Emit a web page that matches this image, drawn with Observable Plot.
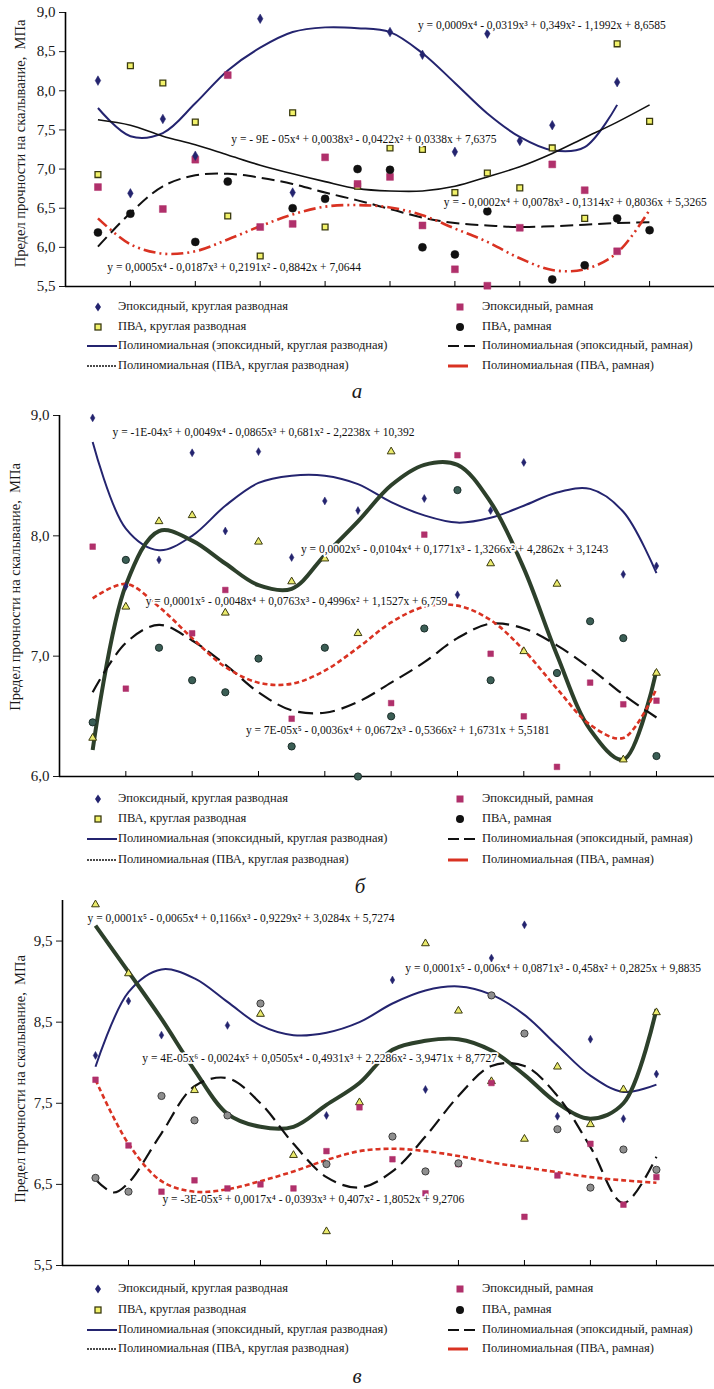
<!DOCTYPE html>
<html><head><meta charset="utf-8">
<script src="https://cdn.jsdelivr.net/npm/d3@7"></script>
<script src="https://cdn.jsdelivr.net/npm/@observablehq/plot@0.6"></script>
<style>
body{margin:0;background:#fff;}
#root{position:relative;width:714px;height:1389px;overflow:hidden;font-family:"Liberation Serif","Times New Roman",serif;color:#1a1a1a;background:#fff;}
.panel{position:absolute;left:0;}
.leg{position:absolute;font-size:12.5px;line-height:1;white-space:nowrap;color:#1a1a1a;}
.leg svg{position:absolute;overflow:visible;}
.cap{position:absolute;font-style:italic;font-size:21px;transform:translate(-50%,-50%);}
</style></head><body><div id="root"></div>
<script>
// ---------- shared labels ----------
const yTitle = "Предел прочности на скалывание,\u00a0 МПа";
const seriesNames = ["Эпоксидный, круглая разводная", "Эпоксидный, рамная", "ПВА, круглая разводная", "ПВА, рамная"];
const trendNames = ["Полиномиальная (эпоксидный, круглая разводная)", "Полиномиальная (эпоксидный, рамная)", "Полиномиальная (ПВА, круглая разводная)", "Полиномиальная (ПВА, рамная)"];
const captions = ["а", "б", "в"];
const X18 = [1,2,3,4,5,6,7,8,9,10,11,12,13,14,15,16,17,18];
const xTicks = [2,4,6,8,10,12,14,16,18];

// ---------- panel а ----------
const yTicksA = [5.5,6,6.5,7,7.5,8,8.5,9];
const aEpoxyRound = [8.13,6.69,7.64,7.17,null,8.92,6.70,null,null,8.75,8.46,7.22,8.73,7.36,7.56,null,8.11,null];
const aEpoxyFrame = [6.77,null,6.49,7.12,8.20,6.26,6.30,7.15,6.81,6.90,6.28,5.72,5.51,6.25,7.06,6.73,5.95,null];
const aPvaRound   = [6.93,8.32,8.10,7.60,6.40,5.89,7.72,6.26,6.78,7.27,7.25,6.70,6.95,6.76,7.27,6.37,8.60,7.61];
const aPvaFrame   = [6.19,6.43,null,6.07,6.84,null,6.50,6.62,7.00,6.99,6.00,5.91,6.46,null,5.59,5.77,6.37,6.22];
const aTrEpoxyRoundX = [1,2,3,4,5,6,7,8,9,10,11,12,13,14,15,16,17];
const aTrEpoxyRound  = [7.78,7.42,7.46,7.84,8.26,8.55,8.75,8.81,8.80,8.75,8.48,8.10,7.71,7.41,7.24,7.28,7.82];
const aTrEpoxyFrame  = [6.01,6.44,6.78,6.92,6.94,6.89,6.81,6.70,6.60,6.49,6.38,6.31,6.28,6.26,6.27,6.29,6.31,6.32];
const aTrPvaRound    = [7.63,7.56,7.42,7.31,7.18,7.05,6.94,6.84,6.75,6.72,6.72,6.78,6.90,7.03,7.20,7.40,7.60,7.82];
const aTrPvaFrame    = [6.37,6.04,5.92,5.95,6.10,6.27,6.42,6.52,6.54,6.51,6.41,6.24,6.07,5.86,5.71,5.72,5.93,6.48];
const aEqText = ["y = 0,0009x⁴ - 0,0319x³ + 0,349x² - 1,1992x + 8,6585",
                 "y = - 9E - 05x⁴ + 0,0038x³ - 0,0422x² + 0,0338x + 7,6375",
                 "y = - 0,0002x⁴ + 0,0078x³ - 0,1314x² + 0,8036x + 5,3265",
                 "y = 0,0005x⁴ - 0,0187x³ + 0,2191x² - 0,8842x + 7,0644"];
const aEqX = [10.86, 5.11, 11.66, 1.29];
const aEqY = [8.83, 7.38, 6.57, 5.75];

// ---------- panel б ----------
const yTicksB = [6,7,8,9];
const bEpoxyRound = [8.98,7.58,7.80,8.69,8.04,8.70,7.82,8.29,8.21,null,8.31,7.51,8.21,8.61,null,null,7.68,7.75];
const bEpoxyFrame = [7.91,6.73,null,7.19,7.55,null,6.48,null,null,6.61,8.01,8.67,7.02,6.50,6.08,6.78,6.60,6.63];
const bPvaRound   = [6.32,7.41,8.12,8.17,7.36,7.95,7.62,7.81,7.19,8.70,null,null,7.77,7.04,7.60,null,6.14,6.86];
const bPvaFrame   = [6.45,7.80,7.07,6.80,6.70,6.98,6.25,7.07,6.00,6.50,7.23,8.38,6.80,null,6.86,7.29,7.15,6.17];
const bTrEpoxyRound = [8.78,8.06,7.88,8.00,8.25,8.44,8.50,8.50,8.43,8.28,8.17,8.11,8.15,8.25,8.36,8.39,8.20,7.69];
const bTrEpoxyFrame = [6.70,7.11,7.26,7.13,6.93,6.70,6.55,6.53,6.62,6.78,6.95,7.15,7.27,7.23,7.09,6.90,6.68,6.49];
const bTrPvaRound   = [6.22,7.59,8.04,7.96,7.77,7.59,7.56,7.84,8.12,8.42,8.59,8.59,8.28,7.73,7.01,6.39,6.14,6.88];
const bTrPvaFrame   = [7.48,7.60,7.41,7.15,6.91,6.78,6.77,6.88,7.07,7.28,7.41,7.42,7.30,7.05,6.73,6.43,6.32,6.73];
const bEqText = ["y = -1E-04x⁵ + 0,0049x⁴ - 0,0865x³ + 0,681x² - 2,2238x + 10,392",
                 "y = 0,0002x⁵ - 0,0104x⁴ + 0,1771x³ - 1,3266x² + 4,2862x + 3,1243",
                 "y = 0,0001x⁵ - 0,0048x⁴ + 0,0763x³ - 0,4996x² + 1,1527x + 6,759",
                 "y = 7E-05x⁵ - 0,0036x⁴ + 0,0672x³ - 0,5366x² + 1,6731x + 5,5181"];
const bEqX = [1.60, 7.28, 2.60, 5.62];
const bEqY = [8.86, 7.89, 7.46, 6.38];

// ---------- panel в ----------
const yTicksC = [5.5,6.5,7.5,8.5,9.5];
const cEpoxyRound = [8.09,8.76,8.34,null,8.46,null,null,7.35,null,9.02,7.67,null,9.29,9.70,7.34,8.29,7.31,7.86];
const cEpoxyFrame = [7.79,6.98,6.41,6.55,6.45,6.50,6.45,6.91,7.45,6.81,6.39,6.75,7.75,6.10,6.61,7.00,6.25,6.59];
const cPvaRound   = [9.95,9.10,null,7.66,null,8.60,6.86,5.92,7.51,null,9.47,8.64,7.77,7.06,7.95,7.24,7.67,8.62];
const cPvaFrame   = [6.58,6.41,7.59,7.29,7.35,8.73,null,6.75,null,7.09,6.66,6.76,8.83,8.36,7.18,6.46,6.93,6.68];
const cTrEpoxyRound = [7.95,8.87,9.15,9.04,8.75,8.46,8.34,8.37,8.50,8.73,8.89,8.94,8.84,8.59,8.21,7.84,7.64,7.73];
const cTrEpoxyFrameX = [1,1.55,2,3,4,5,6,7,8,9,10,11,12,13,14,15,16,17,18];
const cTrEpoxyFrame  = [6.56,6.40,6.52,7.13,7.71,7.81,7.50,7.00,6.59,6.46,6.66,7.09,7.59,7.96,7.96,7.59,6.96,6.27,6.84];
const cTrPvaRound   = [9.69,9.12,8.54,7.91,7.37,7.21,7.21,7.48,7.75,8.16,8.27,8.29,8.15,7.85,7.50,7.31,7.50,8.66];
const cTrPvaFrame   = [7.79,7.00,6.54,6.41,6.44,6.54,6.66,6.80,6.91,6.94,6.91,6.85,6.77,6.71,6.65,6.59,6.55,6.52];
const cEqText = ["y = 0,0001x⁵ - 0,0065x⁴ + 0,1166x³ - 0,9229x² + 3,0284x + 5,7274",
                 "y = 0,0001x⁵ - 0,006x⁴ + 0,0871x³ - 0,458x² + 0,2825x + 9,8835",
                 "y = 4E-05x⁶ - 0,0024x⁵ + 0,0505x⁴ - 0,4931x³ + 2,2286x² - 3,9471x + 8,7727",
                 "y = -3E-05x⁵ + 0,0017x⁴ - 0,0393x³ + 0,407x² - 1,8052x + 9,2706"];
const cEqX = [0.76, 10.39, 2.42, 3.03];
const cEqY = [9.78, 9.17, 8.05, 6.31];

// ---------- helpers ----------
const NAVY = "#24246f", MAG = "#b0306b", RED = "#d93222", GREEN = "#2d402b";
const fmt = d => d.toFixed(1).replace(".", ",");
const pts = (xs, ys) => xs.map((x, i) => ({x, y: ys[i]})).filter(d => d.y != null);
const eqs = (t, xs, ys) => t.map((s, i) => ({t: s, x: xs[i], y: ys[i]}));

function makePanel(p) {
  const [y0, y1] = p.yDomain;
  const innerH = p.height - p.mt - p.mb;
  const tickLen = 5 * (y1 - y0) / innerH;
  const marks = [
    Plot.axisY({ticks: p.yTicks, tickFormat: fmt, tickSize: 6, tickPadding: 4, fontSize: 15, label: null}),
    Plot.text([yTitle], {frameAnchor: "left", textAnchor: "middle", lineAnchor: "middle", rotate: -90, dx: p.titleDx, dy: p.titleDy, fontSize: 14.5, fill: "#1a1a1a"}),
    Plot.ruleX([0], {y1: y0, y2: y1, stroke: "#000", strokeWidth: 1.6}),
    Plot.ruleY([y0], {stroke: "#000", strokeWidth: 1.6}),
    Plot.ruleX(xTicks, {x: d => d, y1: y0, y2: y0 + tickLen, stroke: "#000", strokeWidth: 1})
  ];
  for (const l of p.lines) {
    marks.push(Plot.line(pts(l.xs, l.ys), {x: "x", y: "y", curve: "catmull-rom", stroke: l.stroke, strokeWidth: l.w, strokeDasharray: l.dash, strokeLinecap: "butt"}));
  }
  for (const d of p.dots) {
    marks.push(Plot.dot(pts(X18, d.ys), {x: "x", y: "y", symbol: d.symbol, r: d.r, fill: d.fill, stroke: d.stroke, strokeWidth: d.sw}));
  }
  marks.push(Plot.text(p.eqs, {x: "x", y: "y", text: "t", textAnchor: "start", fontSize: 11.5, fill: "#111", stroke: "#fff", strokeWidth: 3.5, paintOrder: "stroke"}));
  return Plot.plot({
    width: 714, height: p.height,
    marginLeft: p.ml, marginRight: 0, marginTop: p.mt, marginBottom: p.mb,
    x: {domain: [0, p.xMax], axis: null},
    y: {domain: p.yDomain, axis: null},
    style: {fontFamily: '"Liberation Serif","Times New Roman",serif', background: "transparent", overflow: "visible", color: "#1a1a1a"},
    marks
  });
}

const root = document.getElementById("root");
function place(el, top) { el.classList.add("panel"); el.style.top = top + "px"; root.appendChild(el); }

// panel а
place(makePanel({
  height: 290, mt: 12, mb: 4, ml: 65, xMax: 20, yDomain: [5.5, 9], yTicks: yTicksA, titleDx: -45, titleDy: -6,
  lines: [
    {xs: aTrEpoxyRoundX, ys: aTrEpoxyRound, stroke: NAVY, w: 2},
    {xs: X18, ys: aTrPvaRound, stroke: "#111", w: 1.6},
    {xs: X18, ys: aTrEpoxyFrame, stroke: "#111", w: 2, dash: "13,6"},
    {xs: X18, ys: aTrPvaFrame, stroke: RED, w: 2.6, dash: "12,4,2,4,2,4"}
  ],
  dots: [
    {ys: aPvaRound, symbol: "square", r: 3.3, fill: "#f2f26a", stroke: "#3b3b10", sw: 1.3},
    {ys: aEpoxyFrame, symbol: "square", r: 3.9, fill: MAG, stroke: MAG, sw: 0.5},
    {ys: aPvaFrame, symbol: "circle", r: 4.0, fill: "#111", stroke: "#111", sw: 0.5},
    {ys: aEpoxyRound, symbol: "diamond", r: 2.9, fill: NAVY, stroke: NAVY, sw: 0.5}
  ],
  eqs: eqs(aEqText, aEqX, aEqY)
}), 0);

// panel б
place(makePanel({
  height: 380, mt: 15, mb: 4, ml: 59, xMax: 19.75, yDomain: [6, 9], yTicks: yTicksB, titleDx: -44, titleDy: -9,
  lines: [
    {xs: X18, ys: bTrEpoxyRound, stroke: NAVY, w: 2},
    {xs: X18, ys: bTrPvaRound, stroke: GREEN, w: 4},
    {xs: X18, ys: bTrEpoxyFrame, stroke: "#111", w: 2.2, dash: "15,7"},
    {xs: X18, ys: bTrPvaFrame, stroke: RED, w: 2.6, dash: "5,3"}
  ],
  dots: [
    {ys: bPvaRound, symbol: "triangle", r: 2.9, fill: "#eaea6c", stroke: "#3b3b10", sw: 1},
    {ys: bEpoxyFrame, symbol: "square", r: 3.2, fill: MAG, stroke: MAG, sw: 0.5},
    {ys: bPvaFrame, symbol: "circle", r: 3.6, fill: "#3b5e55", stroke: "#1c2e2a", sw: 1},
    {ys: bEpoxyRound, symbol: "diamond", r: 2.4, fill: NAVY, stroke: NAVY, sw: 0.5}
  ],
  eqs: eqs(bEqText, bEqX, bEqY)
}), 400);

// panel в
place(makePanel({
  height: 380, mt: 10, mb: 5, ml: 62, xMax: 19.76, yDomain: [5.5, 10], yTicks: yTicksC, titleDx: -42, titleDy: -4,
  lines: [
    {xs: X18, ys: cTrEpoxyRound, stroke: NAVY, w: 2},
    {xs: X18, ys: cTrPvaRound, stroke: GREEN, w: 4},
    {xs: cTrEpoxyFrameX, ys: cTrEpoxyFrame, stroke: "#111", w: 2.2, dash: "15,7"},
    {xs: X18, ys: cTrPvaFrame, stroke: RED, w: 2.6, dash: "5,3"}
  ],
  dots: [
    {ys: cPvaRound, symbol: "triangle", r: 2.9, fill: "#eaea6c", stroke: "#3b3b10", sw: 1},
    {ys: cEpoxyFrame, symbol: "square", r: 3.2, fill: MAG, stroke: MAG, sw: 0.5},
    {ys: cPvaFrame, symbol: "circle", r: 3.6, fill: "#8e8e8e", stroke: "#3e3e3e", sw: 1},
    {ys: cEpoxyRound, symbol: "diamond", r: 2.4, fill: NAVY, stroke: NAVY, sw: 0.5}
  ],
  eqs: eqs(cEqText, cEqX, cEqY)
}), 890);

// ---------- legends (HTML) ----------
const ns = "http://www.w3.org/2000/svg";
function svgEl(w, h, inner) {
  const s = document.createElementNS(ns, "svg");
  s.setAttribute("width", w); s.setAttribute("height", h);
  s.innerHTML = inner;
  return s;
}
const legendMarkers = [
  svgEl(10, 10, `<path d="M5,0.5 L8,5 L5,9.5 L2,5Z" fill="${NAVY}"/>`),
  svgEl(10, 10, `<rect x="1.5" y="1.5" width="7" height="7" fill="${MAG}"/>`),
  svgEl(10, 10, `<rect x="2" y="2" width="6" height="6" fill="#f2f26a" stroke="#3b3b10" stroke-width="1.3"/>`),
  svgEl(10, 10, `<circle cx="5" cy="5" r="4" fill="#111"/>`)
];
const legendLines = [
  `<line x1="0" y1="5" x2="30" y2="5" stroke="${NAVY}" stroke-width="2"/>`,
  `<line x1="0" y1="5" x2="32" y2="5" stroke="#111" stroke-width="2" stroke-dasharray="11,5"/>`,
  `<line x1="0" y1="5" x2="30" y2="5" stroke="#111" stroke-width="1.4" stroke-dasharray="2,1"/>`,
  `<line x1="0" y1="5" x2="20" y2="5" stroke="${RED}" stroke-width="3"/>`
];
function legend(rowTops) {
  const cols = [{mx: 98, tx: 118, lx: 87}, {mx: 460, tx: 482, lx: 448}];
  const items = [
    [0, 0, "m", 0], [0, 1, "m", 1], [1, 0, "m", 2], [1, 1, "m", 3],
    [2, 0, "l", 0], [2, 1, "l", 1], [3, 0, "l", 2], [3, 1, "l", 3]
  ];
  for (const [row, col, kind, k] of items) {
    const c = cols[col], yc = rowTops[row];
    const div = document.createElement("div");
    div.className = "leg";
    div.style.left = c.tx + "px";
    div.style.top = (yc - 7) + "px";
    div.textContent = kind === "m" ? seriesNames[k] : trendNames[k];
    root.appendChild(div);
    let s;
    if (kind === "m") { s = legendMarkers[k].cloneNode(true); s.style.left = (c.mx - 5) + "px"; }
    else { s = svgEl(34, 10, legendLines[k]); s.style.left = c.lx + "px"; }
    s.style.position = "absolute"; s.style.top = (yc - 5) + "px";
    root.appendChild(s);
  }
}
legend([307, 327, 346, 366]);
legend([799, 819, 839, 860]);
legend([1289, 1310, 1330, 1349]);

const capPos = [[357, 391], [360, 886], [357, 1376]];
captions.forEach((t, i) => {
  const d = document.createElement("div");
  d.className = "cap"; d.textContent = t;
  d.style.left = capPos[i][0] + "px"; d.style.top = capPos[i][1] + "px";
  root.appendChild(d);
});
</script></body></html>
